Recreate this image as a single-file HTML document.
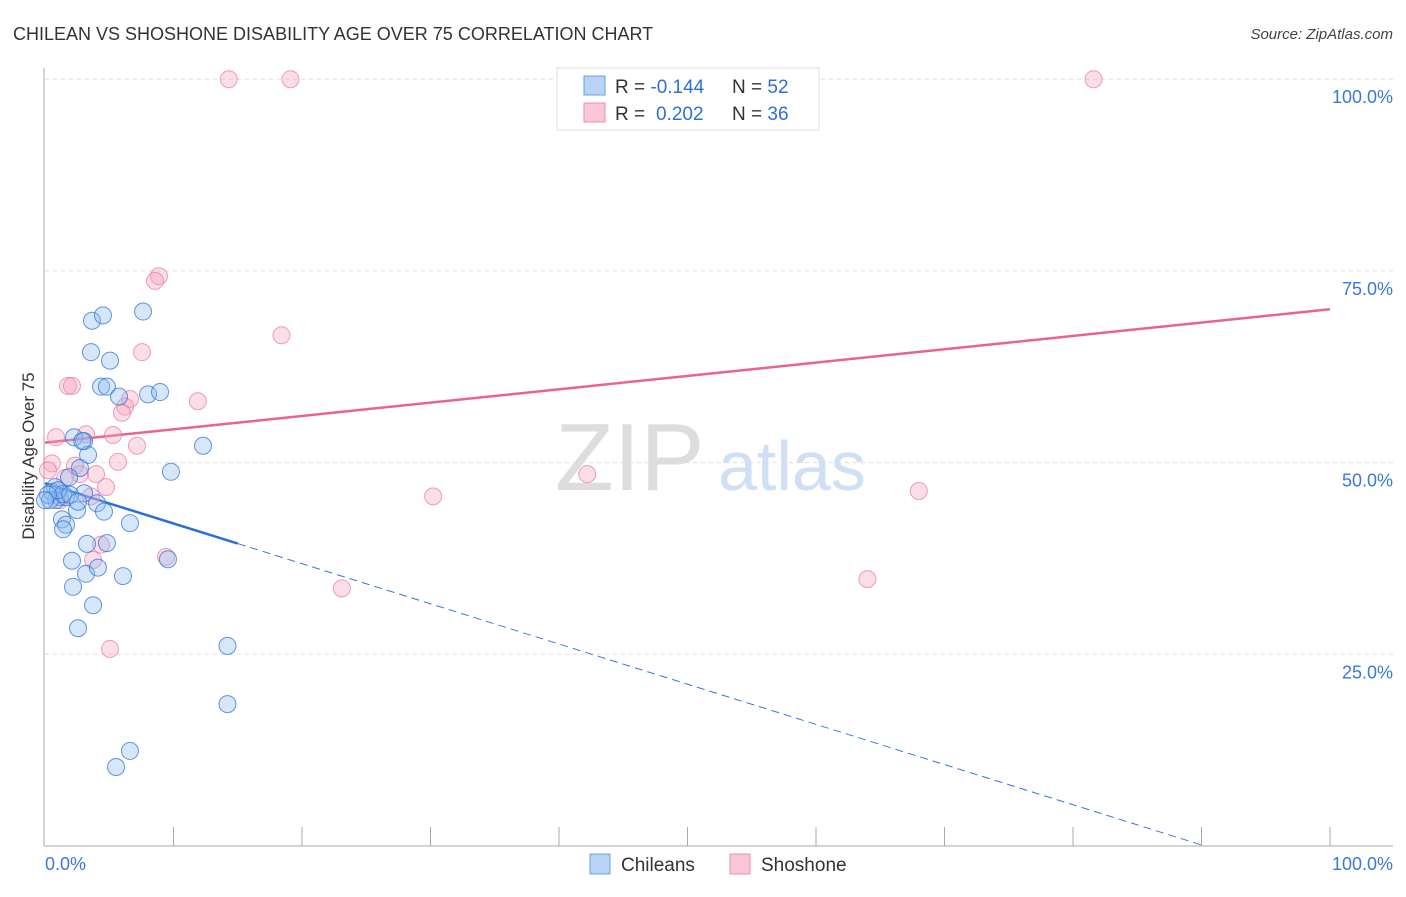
<!DOCTYPE html>
<html><head><meta charset="utf-8"><style>
body{margin:0;background:#fff;font-family:"Liberation Sans",sans-serif}
svg text{font-family:"Liberation Sans",sans-serif}
</style></head><body>
<svg width="1406" height="892">
<text x="13" y="40" font-size="18" fill="#333">CHILEAN VS SHOSHONE DISABILITY AGE OVER 75 CORRELATION CHART</text>
<text x="1393" y="39" font-size="15" fill="#444" font-style="italic" text-anchor="end">Source: ZipAtlas.com</text>
<text x="0" y="0" transform="translate(34,456) rotate(-90)" font-size="17" fill="#333" text-anchor="middle">Disability Age Over 75</text>
<text x="555" y="490" font-size="96" fill="#ddd" font-family="Liberation Serif">ZIP</text>
<text x="718" y="490" font-size="70" fill="#cfe0f4">atlas</text>
<g id="grid"></g><g id="axes"></g><g id="lines"></g><g id="pts"></g>
<g>
<rect x="557" y="68" width="262" height="62" fill="#fff" stroke="#ddd"/>
<rect x="584" y="76" width="21" height="19" fill="#b8d3f5" stroke="#6a9fe0"/>
<rect x="584" y="103" width="21" height="19" fill="#f9c7d6" stroke="#ec91ae"/>
<text x="615" y="93" font-size="19" fill="#333">R = <tspan fill="#2f6fd6">-0.144</tspan><tspan x="732">N = </tspan><tspan fill="#2f6fd6">52</tspan></text>
<text x="615" y="120" font-size="19" fill="#333">R = <tspan fill="#2f6fd6" x="656">0.202</tspan><tspan x="732">N = </tspan><tspan fill="#2f6fd6">36</tspan></text>
</g>
<g>
<rect x="590" y="854" width="20" height="20" fill="#b8d3f5" stroke="#6a9fe0"/>
<text x="621" y="871" font-size="19" fill="#333">Chileans</text>
<rect x="730" y="854" width="20" height="20" fill="#f9c7d6" stroke="#ec91ae"/>
<text x="761" y="871" font-size="19" fill="#333">Shoshone</text>
</g>
</svg>
<script>
const blueX=[3.66,4.51,7.63,3.58,5.06,4.36,4.82,5.76,8.02,8.95,2.26,3.04,3.35,12.3,9.8,2.72,1.87,0.78,0.54,1.17,0.86,1.63,0.39,1.4,3.04,4.05,4.59,2.49,1.32,1.63,1.4,6.61,3.27,4.82,2.1,3.19,4.12,6.07,9.57,2.18,3.74,2.57,14.2,14.2,6.61,5.53,1.01,0.23,1.95,0.0,2.57,2.9];
const blueY=[68.5,69.2,69.7,64.4,63.3,59.9,59.9,58.6,58.9,59.2,53.3,52.8,51.0,52.2,48.8,49.3,48.1,46.8,46.2,45.5,45.1,45.5,45.1,45.9,46.0,44.7,43.6,43.8,42.6,41.9,41.3,42.1,39.4,39.5,37.2,35.5,36.3,35.2,37.4,33.8,31.4,28.4,26.1,18.5,12.4,10.3,46.4,45.8,45.8,45.1,44.9,52.8];
const pinkX=[14.3,19.1,81.6,8.87,8.56,18.4,7.55,1.79,2.1,11.9,6.61,6.23,5.99,0.86,3.19,5.29,7.16,5.68,0.54,2.33,2.72,3.97,1.56,3.58,4.75,1.17,42.2,30.2,68.0,9.42,4.36,3.74,64.0,23.1,5.06,0.23];
const pinkY=[100,100,100,74.3,73.7,66.6,64.4,60.0,60.0,58.0,58.3,57.3,56.5,53.3,53.7,53.6,52.2,50.1,49.9,49.6,48.5,48.5,48.0,45.6,46.8,45.1,48.5,45.6,46.3,37.7,39.3,37.3,34.8,33.6,25.7,49.0];
const blueTrend=[47.3,-0.524];
const pinkTrend=[52.6,0.174];
const yTicks=[25,50,75,100];
const yTickLabels=["25.0%","50.0%","75.0%","100.0%"];
const NS="http://www.w3.org/2000/svg";
const sx=v=>45+v*12.85, sy=v=>846-v*7.668;
function mk(tag,attrs,parent){const e=document.createElementNS(NS,tag);for(const k in attrs)e.setAttribute(k,attrs[k]);document.getElementById(parent).appendChild(e);return e;}
yTicks.forEach((t,i)=>{
 const l=mk('line',{x1:45,x2:1393,y1:sy(t),y2:sy(t),stroke:'#ddd','stroke-dasharray':'4,4'},'grid');
 
 
 const tx=mk('text',{x:1393,y:sy(t)+24,'font-size':18,fill:'#3b78d8','text-anchor':'end'},'grid');
 tx.textContent=yTickLabels[i];
 
 
});
const ya=mk('line',{x1:44,x2:44,y1:68,y2:846,stroke:'#aaa'},'axes');


const xa=mk('line',{x1:44,x2:1393,y1:846,y2:846,stroke:'#aaa'},'axes');


for(let i=1;i<=10;i++){const t=mk('line',{x1:sx(i*10),x2:sx(i*10),y1:827,y2:846,stroke:'#aaa'},'axes');
 
 }
[[0,"0.0%","start",45],[100,"100.0%","end",1393]].forEach(a=>{const t=mk('text',{x:a[3],y:870,'font-size':18,fill:'#3b78d8','text-anchor':a[2]},'axes');t.textContent=a[1];
 
 });
const pl=mk('line',{x1:sx(0),y1:sy(pinkTrend[0]),x2:sx(100),y2:sy(pinkTrend[0]+100*pinkTrend[1]),stroke:'#e8648e','stroke-width':2.5},'lines');


const bx0=-blueTrend[0]/blueTrend[1];
const bd=mk('line',{x1:sx(15),y1:sy(blueTrend[0]+15*blueTrend[1]),x2:sx(bx0),y2:sy(0),stroke:'#3b78d8','stroke-width':1,'stroke-dasharray':'8,5'},'lines');


const bl=mk('line',{x1:sx(0),y1:sy(blueTrend[0]),x2:sx(15),y2:sy(blueTrend[0]+15*blueTrend[1]),stroke:'#2a6fd9','stroke-width':2.5},'lines');


pinkX.forEach((x,i)=>{const c=mk('circle',{cx:sx(x),cy:sy(pinkY[i]),r:8.5,fill:'rgba(244,160,188,0.35)',stroke:'rgba(232,120,156,0.7)','stroke-width':1},'pts');
 
 });
blueX.forEach((x,i)=>{const c=mk('circle',{cx:sx(x),cy:sy(blueY[i]),r:8.5,fill:'rgba(140,185,240,0.35)',stroke:'rgba(50,115,215,0.75)','stroke-width':1},'pts');
 
 });
</script>
</body></html>
